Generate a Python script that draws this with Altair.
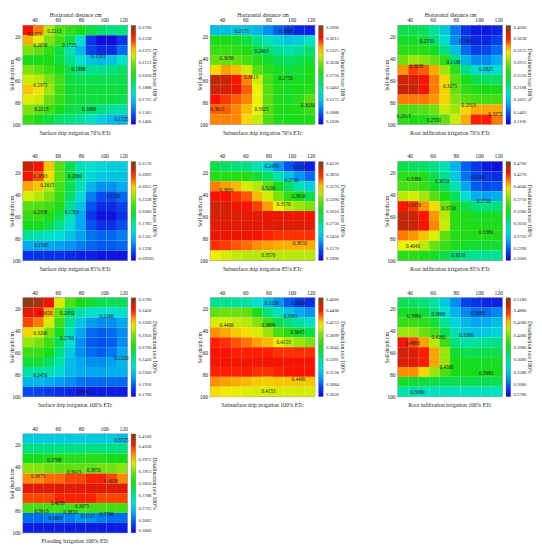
import altair as alt
import pandas as pd

FONT = "Liberation Serif"
X_EDGES = [30, 39, 48, 57, 66, 75, 84, 93, 102, 111, 120]
Y_EDGES = [10, 19, 28, 37, 46, 55, 64, 73, 82, 91, 100]
STOPS = [0, .12, .2, .3, .4, .5, .62, .72, .8, .87, .93, 1]
COLORS = ["#1400d8", "#0058f0", "#00a8f0", "#00e0d0", "#00e080", "#18dc18", "#70e010",
          "#f0f000", "#ff8c00", "#ff1000", "#c02808", "#6a4a20"]

# values in thousandths, rows from the surface down, columns left to right
S70 = [[255,245,228,215,210,205,200,195,192,192],[240,232,222,212,200,180,150,142,142,150],
       [222,218,210,200,185,170,152,148,148,158],[205,205,205,200,190,180,172,170,172,180],
       [222,218,212,205,198,192,190,190,192,195],[230,228,222,212,200,198,198,198,198,198],
       [238,235,225,212,202,200,200,200,200,200],[232,230,220,210,202,200,200,200,200,198],
       [222,218,212,205,200,198,196,192,188,185],[210,205,200,195,192,188,182,175,170,168]]
B70 = [[215,215,218,218,212,200,190,180,172,170],[275,275,272,265,250,235,225,218,222,232],
       [285,285,282,278,265,255,245,240,245,255],[300,300,298,290,280,270,262,258,262,268],
       [330,340,335,320,295,280,272,268,270,275],[375,372,360,345,320,290,275,272,272,275],
       [372,370,365,350,325,295,278,272,275,278],[360,355,350,345,325,295,278,272,280,295],
       [350,350,345,335,325,295,278,275,278,285],[345,345,345,330,318,292,278,275,275,275]]
R70 = [[240,240,235,215,185,155,130,120,120,125],[250,250,245,230,195,160,135,125,125,135],
       [262,262,260,250,225,180,150,135,138,150],[290,300,295,285,262,225,175,160,160,170],
       [340,355,350,335,300,265,225,195,190,195],[375,375,365,345,325,280,255,240,235,235],
       [378,378,365,345,325,285,265,258,255,255],[345,345,345,340,325,295,280,272,272,272],
       [275,275,280,290,310,300,325,335,335,335],[262,255,258,265,285,310,335,360,360,345]]
S85 = [[300,290,262,225,195,170,162,158,155,155],[290,280,258,225,200,175,158,152,150,150],
       [268,262,245,220,195,170,145,135,135,140],[250,245,235,215,190,160,130,118,118,125],
       [225,222,218,208,180,150,120,108,108,115],[215,215,210,195,170,140,112,100,100,110],
       [205,205,195,180,160,140,120,110,110,118],[175,170,165,160,150,138,128,125,125,130],
       [140,140,140,138,135,130,125,122,122,125],[110,110,110,110,108,105,105,102,102,102]]
B85 = [[290,285,280,278,265,250,230,215,205,198],[305,305,305,305,295,285,268,245,230,220],
       [370,365,360,345,340,325,300,285,265,250],[385,385,380,375,360,345,330,310,300,290],
       [395,392,388,385,378,365,350,340,335,330],[392,392,392,390,390,388,388,388,388,385],
       [390,390,390,390,390,390,392,392,392,392],[388,388,388,388,385,382,380,380,380,380],
       [380,378,375,372,368,365,362,362,362,362],[350,345,342,340,340,340,340,340,340,340]]
R85 = [[325,320,318,310,295,265,240,225,215,212],[345,345,340,325,305,275,245,232,225,222],
       [355,355,350,335,320,295,258,238,232,235],[385,390,380,360,340,320,285,262,258,262],
       [435,430,415,400,370,340,325,312,310,312],[452,450,435,415,385,345,340,335,335,335],
       [452,450,438,418,388,345,340,340,340,340],[420,415,405,392,365,342,340,340,340,340],
       [395,395,385,368,350,340,335,332,332,332],[345,345,340,335,325,315,310,305,305,305]]
S100 = [[365,360,345,310,285,270,265,260,258,258],[350,345,325,290,255,240,232,230,230,232],
        [338,332,310,280,245,220,208,205,205,210],[318,310,295,268,235,210,198,195,198,205],
        [300,295,280,258,230,205,195,192,195,205],[280,280,270,250,222,205,198,195,200,210],
        [265,265,255,240,218,210,205,205,208,215],[240,240,238,228,218,212,210,210,212,212],
        [215,215,212,208,205,200,198,198,198,198],[190,188,185,182,180,178,178,178,178,178]]
B100 = [[340,340,338,335,325,312,300,288,280,275],[385,388,388,385,365,345,330,315,305,300],
        [405,405,402,400,392,375,355,345,335,328],[425,420,415,412,405,395,378,368,360,355],
        [438,436,432,428,422,418,410,400,395,390],[440,440,438,438,438,438,436,436,436,436],
        [442,442,442,442,442,442,442,442,442,442],[438,438,438,438,436,436,438,440,440,440],
        [425,422,420,418,415,415,416,416,416,416],[412,410,408,406,405,405,405,405,405,405]]
R100 = [[385,380,375,365,340,320,300,295,290,288],[395,395,390,375,350,330,318,312,312,318],
        [408,408,405,392,368,345,332,325,328,335],[435,435,425,412,385,358,340,338,340,345],
        [490,480,465,440,410,375,362,365,368,372],[498,495,485,465,435,392,385,385,385,385],
        [495,495,485,465,435,398,395,395,395,395],[470,470,455,435,415,398,398,398,398,398],
        [395,392,390,388,385,385,385,385,385,385],[362,358,355,355,355,355,355,355,355,355]]
F100 = [[373,373,373,373,373,373,373,373,373,372],[380,380,380,380,380,380,380,380,380,380],
        [385,385,386,386,386,386,386,386,385,385],[392,392,391,390,390,390,390,391,391,392],
        [400,400,401,401,402,402,403,403,402,400],[405,405,405,405,405,405,405,405,405,405],
        [402,402,402,403,403,403,403,402,402,402],[388,388,388,388,388,388,388,388,388,388],
        [367,367,368,368,368,369,369,368,367,367],[362,362,362,362,362,362,362,362,362,362]]

T70S = [.1400,.1563,.1725,.1888,.2050,.2213,.2375,.2538,.2700]
T70B = [.1600,.1888,.2175,.2463,.2750,.3038,.3325,.3613,.3900]
T70R = [.1100,.1463,.1825,.2188,.2550,.2913,.3275,.3638,.4000]
T85S = [.0950,.1228,.1505,.1783,.2060,.2338,.2615,.2893,.3170]
T85B = [.1890,.2170,.2450,.2730,.3010,.3290,.3570,.3850,.4130]
T85R = [.2060,.2390,.2720,.3050,.3380,.3710,.4040,.4370,.4700]
T100S = [.1700,.1950,.2200,.2450,.2700,.2950,.3200,.3450,.3700]
T100B = [.2630,.2884,.3138,.3391,.3645,.3899,.4153,.4406,.4660]
T100R = [.2780,.3080,.3380,.3680,.3980,.4280,.4580,.4880,.5180]
T100F = [.3600,.3663,.3725,.3788,.3850,.3913,.3975,.4038,.4100]

L70S = [(40,18,"0.2375"),(57,15,"0.2213"),(45,28,"0.2050"),(70,28,"0.1725"),(95,38,"0.1563"),
        (78,50,"0.1888"),(45,64,"0.2375"),(46,86,"0.2213"),(87,86,"0.1888"),(115,95,"0.1725")]
L70B = [(57,15,"0.2175"),(95,15,"0.1888"),(74,33,"0.2463"),(44,40,"0.3038"),(65,57,"0.3613"),
        (95,58,"0.2750"),(36,86,"0.3613"),(74,86,"0.3325"),(114,83,"0.3038")]
L70R = [(55,24,"0.2550"),(89,24,"0.1463"),(46,47,"0.3638"),(78,43,"0.2188"),(106,50,"0.1825"),
        (75,65,"0.3275"),(91,83,"0.2913"),(114,91,"0.3272"),(35,93,"0.2913"),(61,96,"0.2550")]
L85S = [(45,23,"0.2893"),(75,23,"0.2060"),(51,31,"0.2615"),(108,41,"0.1228"),(45,56,"0.2338"),
        (72,56,"0.1783"),(46,86,"0.1505")]
L85B = [(83,14,"0.2450"),(107,15,"0.2170"),(100,27,"0.2730"),(44,36,"0.3850"),(80,34,"0.3290"),
        (106,41,"0.3010"),(93,49,"0.3570"),(107,84,"0.3850"),(80,95,"0.3570")]
L85R = [(44,26,"0.3380"),(68,28,"0.3050"),(99,24,"0.2390"),(104,46,"0.2720"),(44,50,"0.4370"),
        (74,52,"0.3710"),(106,74,"0.3380"),(43,87,"0.4040"),(82,95,"0.3050")]
L100S = [(49,24,"0.3450"),(68,24,"0.2950"),(102,27,"0.2200"),(45,42,"0.3200"),(68,47,"0.2700"),
         (115,65,"0.2200"),(45,80,"0.2450"),(82,96,"0.1950")]
L100B = [(83,15,"0.3138"),(106,15,"0.2884"),(99,27,"0.3391"),(44,35,"0.4406"),(80,35,"0.3899"),
         (105,41,"0.3645"),(93,50,"0.4153"),(106,84,"0.4406"),(80,95,"0.4153")]
L100R = [(44,27,"0.3980"),(65,25,"0.3680"),(99,24,"0.3080"),(65,46,"0.4280"),(89,44,"0.3380"),
         (43,51,"0.4880"),(72,73,"0.4580"),(106,79,"0.3980"),(47,96,"0.3680")]
L100F = [(115,16,"0.3725"),(57,34,"0.3788"),(43,48,"0.3975"),(74,45,"0.3913"),(91,43,"0.3850"),
         (106,53,"0.4038"),(60,73,"0.4038"),(81,76,"0.3975"),(46,80,"0.3913"),(71,81,"0.3850"),
         (86,85,"0.3725"),(102,83,"0.3788"),(58,87,"0.3663")]

W, H = 112, 106


def panel(grid, ticks, labels, caption, top_title=False):
    rows = []
    for r, row in enumerate(grid):
        for c, v in enumerate(row):
            rows.append({"x0": X_EDGES[c], "x1": X_EDGES[c + 1], "y0": Y_EDGES[r],
                         "y1": Y_EDGES[r + 1], "v": v / 1000})
    low, high = ticks[0], ticks[-1]
    dom = [low + s * (high - low) for s in STOPS]
    xscale = alt.Scale(domain=[30, 120], nice=False, zero=False)
    yscale = alt.Scale(domain=[100, 10], nice=False, zero=False)
    xaxis = alt.Axis(orient="top", values=[40, 60, 80, 100, 120], grid=False, tickSize=2,
                     tickWidth=0.5, domain=False, labelFont=FONT, labelFontSize=6, labelPadding=1,
                     labelColor="#222", title="Horizontal distance cm" if top_title else " ",
                     titleFont=FONT, titleFontSize=6, titleFontWeight="normal", titlePadding=0,
                     titleColor="#222")
    yaxis = alt.Axis(values=[20, 40, 60, 80, 100], grid=False, tickSize=2, tickWidth=0.5,
                     domain=False, labelFont=FONT, labelFontSize=6, labelPadding=1, labelColor="#222",
                     title="Soil depth cm", titleFont=FONT, titleFontSize=6, titleFontWeight="normal",
                     titleX=-9, titleColor="#222")
    legend = alt.Legend(title=None, values=ticks, gradientLength=H, gradientThickness=5,
                        offset=4, padding=0, tickCount=9, labelFont=FONT, labelFontSize=5,
                        labelColor="#222", labelOffset=3, gradientStrokeColor="#444",
                        gradientStrokeWidth=0.3,
                        labelExpr="datum.value==0.095?'0.09500':format(datum.value,'.4f')")
    rect = alt.Chart(pd.DataFrame(rows)).mark_rect(stroke=None).encode(
        x=alt.X("x0:Q", scale=xscale, axis=xaxis),
        x2="x1:Q",
        y=alt.Y("y0:Q", scale=yscale, axis=yaxis),
        y2="y1:Q",
        color=alt.Color("v:Q", scale=alt.Scale(domain=dom, range=COLORS, interpolate="rgb"), legend=legend),
    )
    ldf = pd.DataFrame(labels, columns=["x", "y", "t"])
    text = alt.Chart(ldf).mark_text(font=FONT, fontSize=5.5, color="#1a1a1a").encode(
        x=alt.X("x:Q", scale=xscale, axis=xaxis), y=alt.Y("y:Q", scale=yscale, axis=yaxis), text="t:N")
    side = alt.Chart(pd.DataFrame({"t": ["Desalination rate 100%"]})).mark_text(
        font=FONT, fontSize=6, angle=90, color="#222").encode(
        x=alt.value(W + 30), y=alt.value(H / 2), text="t:N")
    return alt.layer(rect, text, side).properties(
        width=W, height=H,
        title=alt.TitleParams(caption, orient="bottom", font=FONT, fontSize=6, fontWeight="normal",
                              color="#222", offset=3, anchor="middle"))


row1 = alt.hconcat(
    panel(S70, T70S, L70S, "Surface drip irrigation 70% ETc", True),
    panel(B70, T70B, L70B, "Subsurface drip irrigation 70% ETc", True),
    panel(R70, T70R, L70R, "Root infiltration irrigation 70% ETc", True), spacing=39).resolve_scale(color="independent")
row2 = alt.hconcat(
    panel(S85, T85S, L85S, "Surface drip irrigation 85% ETc"),
    panel(B85, T85B, L85B, "Subsurface drip irrigation 85% ETc"),
    panel(R85, T85R, L85R, "Root infiltration irrigation 85% ETc"), spacing=39).resolve_scale(color="independent")
row3 = alt.hconcat(
    panel(S100, T100S, L100S, "Surface drip irrigation 100% ETc"),
    panel(B100, T100B, L100B, "Subsurface drip irrigation 100% ETc"),
    panel(R100, T100R, L100R, "Root infiltration irrigation 100% ETc"), spacing=39).resolve_scale(color="independent")
row4 = panel(F100, T100F, L100F, "Flooding Irrigation 100% ETc")

chart = alt.vconcat(row1, row2, row3, row4, spacing=11).resolve_scale(color="independent").configure_view(
    stroke="#333", strokeWidth=0.5).properties(padding={"left": 0, "top": -18, "right": 0, "bottom": 18})
chart.save("out.html", embed_options={"renderer": "svg", "actions": False})
